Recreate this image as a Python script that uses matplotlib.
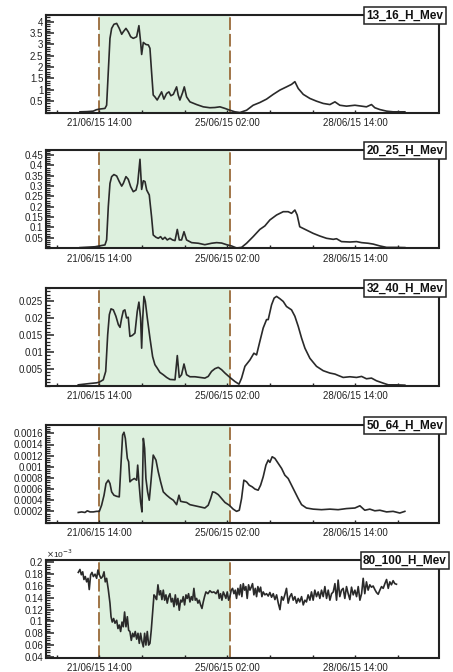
import datetime as dt
import numpy as np
import matplotlib
matplotlib.use("Agg")
import matplotlib.pyplot as plt
import matplotlib.dates as mdates
from matplotlib.ticker import FixedLocator, MultipleLocator, FuncFormatter

plt.rcParams['font.family'] = ['Liberation Sans Narrow', 'Liberation Sans', 'DejaVu Sans']

# time origin of the hour offsets below
T0 = dt.datetime(2015, 6, 21, 14, 0)
EVENT_START = 0.0    # hours after T0
EVENT_END = 86.0

# ---- proton flux per channel (hours after T0, flux) ----
hours_13_16 = [-12.7, -8, -4, -2, 0, 3.7, 4.8, 5.9, 7, 8.1, 9.6, 11.4, 13.1, 14.7, 15.75, 17.5, 19, 20.6,
               22.3, 24.5, 26, 27.1, 27.8, 28.9, 30.6, 32.2, 33.25, 34.3, 35.4, 36.5, 38, 39.8, 40.9, 42.4,
               44.2, 45.7, 47, 48.6, 50.75, 51.8, 52.9, 54.7, 55.8, 57.3, 59.5, 63.9, 68.25, 72.6, 75.9,
               79.2, 82.5, 85.75, 89, 92.3, 96.7, 101, 105.4, 109.8, 114.2, 118.6, 122.9, 126.2, 128.4,
               130.6, 133.9, 138.25, 142.6, 147, 151.4, 154.7, 157.9, 162.3, 167.8, 172.2, 175.4, 178.7,
               180.9, 184.2, 188.6, 192.9, 200.6]
flux_13_16 = [0.03, 0.04, 0.06, 0.12, 0.15, 0.18, 0.32, 1.8, 3.27, 3.71, 3.89, 3.93, 3.71, 3.45, 3.56, 3.71,
              3.56, 3.34, 3.27, 3.34, 3.83, 3.12, 2.56, 3.09, 3.0, 2.98, 2.83, 1.8, 0.77, 0.69, 0.55, 0.77,
              0.91, 0.59, 0.84, 0.91, 0.74, 0.80, 1.13, 0.77, 0.55, 0.88, 1.13, 0.69, 0.47, 0.35, 0.25, 0.21,
              0.22, 0.25, 0.18, 0.10, 0.03, 0.0, 0.10, 0.32, 0.44, 0.59, 0.80, 0.99, 1.13, 1.24, 1.36, 1.06,
              0.80, 0.62, 0.50, 0.40, 0.35, 0.47, 0.32, 0.28, 0.32, 0.28, 0.25, 0.35, 0.21, 0.13, 0.06,
              0.03, 0.03]

hours_20_25 = [-12.7, -2.8, 0, 3.7, 4.8, 5.9, 7, 8.1, 9.6, 11.4, 13.1, 14.7, 15.75, 17.5, 19, 20.6, 22.3,
               24.1, 25.2, 26.7, 27.8, 28.9, 30, 31.1, 32.8, 34.3, 35.4, 37.2, 38.7, 40.25, 41.6, 43.1,
               44.6, 46.4, 48.1, 49.7, 51.2, 52.5, 54, 55.6, 57.3, 60.6, 65, 69.3, 73.7, 77, 80.3, 83.6,
               86.8, 90.1, 93.4, 96.7, 101, 105.4, 108.7, 112, 116.4, 120.75, 124, 126.2, 128.4, 129.9,
               131.6, 136, 140.4, 144.8, 149.2, 153.6, 155.75, 159, 164.5, 168.9, 172.2, 176.5, 179.8,
               184.2, 188.6, 195.1, 200.6]
flux_20_25 = [0.002, 0.006, 0.01, 0.015, 0.039, 0.2, 0.313, 0.346, 0.356, 0.349,
              0.322, 0.30, 0.313, 0.346, 0.333, 0.297, 0.273, 0.281, 0.313, 0.43,
              0.284, 0.326, 0.322, 0.281, 0.257, 0.152, 0.063, 0.052, 0.047, 0.055,
              0.042, 0.052, 0.039, 0.047, 0.039, 0.036, 0.09, 0.039, 0.039, 0.079,
              0.039, 0.026, 0.023, 0.016, 0.023, 0.026, 0.024, 0.016, 0.01, 0.0,
              0.003, 0.023, 0.055, 0.09, 0.107, 0.136, 0.16, 0.176, 0.176, 0.168,
              0.184, 0.16, 0.103, 0.087, 0.071, 0.058, 0.047, 0.042, 0.045, 0.031,
              0.029, 0.031, 0.026, 0.023, 0.019, 0.01, 0.003, 0.003, 0.002]

hours_32_40 = [-13.8, -6.1, -1.75, 0, 2.6, 4.2, 5.5, 6.6, 7.7, 9.2,
               10.9, 12.5, 13.6, 14.7, 15.75, 16.8, 17.9, 19, 20.1, 21.7,
               23.4, 24.9, 26, 27.1, 27.8, 28.4, 29.3, 30.2, 31.5, 33.25,
               35, 36.5, 38, 39.8, 42, 44.2, 46.4, 49.7, 51.2, 52.5,
               54, 55.6, 57.3, 59.5, 62.8, 66.1, 69.3, 71.5, 73.7, 75.9,
               78.1, 80.3, 82.5, 85.75, 89, 91.7, 93.4, 95.6, 98.9, 101.5,
               103.25, 105.4, 107.6, 109.8, 110.9, 113.1, 114.8, 116.4, 118.6, 120.75,
               122.9, 126.2, 128.4, 130.6, 132.8, 135, 138.25, 142.6, 147, 151.4,
               154.7, 156.8, 160.1, 164.5, 168.9, 172.2, 175.4, 178.7, 182, 186.4,
               189.7, 195.1, 200.6]
flux_32_40 = [0.0002, 0.0006, 0.0008, 0.001, 0.0017, 0.0042, 0.0151, 0.0211, 0.0228, 0.0225,
              0.0206, 0.0181, 0.0173, 0.0201, 0.0222, 0.0225, 0.0201, 0.0203, 0.0146, 0.0149,
              0.0156, 0.022, 0.0248, 0.0201, 0.0111, 0.0191, 0.0265, 0.025, 0.0201, 0.0141,
              0.0086, 0.0062, 0.0052, 0.0039, 0.0032, 0.0024, 0.0018, 0.0017, 0.0089, 0.0024,
              0.0032, 0.0064, 0.0032, 0.0026, 0.0026, 0.0024, 0.0022, 0.0027, 0.0042, 0.005,
              0.0054, 0.0047, 0.0037, 0.0024, 0.0012, 0.0004, 0.0022, 0.0057, 0.0076, 0.0096,
              0.0091, 0.0131, 0.0171, 0.0196, 0.0196, 0.024, 0.026, 0.0265, 0.0258, 0.025,
              0.0235, 0.0225, 0.0206, 0.0176, 0.0141, 0.0111, 0.0081, 0.0057, 0.0044, 0.0037,
              0.0034, 0.003, 0.0024, 0.0026, 0.0024, 0.0027, 0.002, 0.0022, 0.0014, 0.0007,
              0.0002, 0.0002, 0.0001]

hours_50_64 = [-13.8, -11.6, -9.4, -7.9, -6.1, -3.9, -1.75, 0, 1.5, 3.1,
               4.4, 5.9, 7, 8.1, 9.6, 11.4, 13.1, 14.2, 15.3, 16.2,
               17.1, 18.4, 19.25, 20.1, 21.2, 23, 24.5, 25.2, 26, 27.1,
               28, 28.9, 29.75, 30.6, 31.7, 32.8, 33.9, 35.4, 37.2, 38.7,
               40.25, 42, 44.2, 46.4, 48.6, 50.75, 52.3, 53.4, 55.1, 57.3,
               59.5, 62.8, 66.1, 69.3, 71.5, 73.1, 74.4, 75.9, 78.1, 80.3,
               82.5, 85.3, 87.9, 90.1, 91.9, 93.4, 94.9, 96.7, 98.4, 100.4,
               102.2, 104.3, 105.9, 107.6, 109.4, 110.9, 112, 113.5, 115.3, 117.5,
               119.7, 121.8, 124, 126.2, 128.4, 130.6, 132.8, 136, 140.4, 145.9,
               151.4, 156.8, 162.3, 167.8, 171.1, 174.3, 177.6, 180.9, 184.2, 188.6,
               192.9, 197.3, 200.6]
flux_50_64 = [0.00018, 0.00019, 0.00018, 0.00021, 0.00019, 0.00019, 0.0002, 0.0002, 0.00031, 0.00049,
              0.0007, 0.00076, 0.0007, 0.00055, 0.00049, 0.00047, 0.00046, 0.00103, 0.00157, 0.00162,
              0.00151, 0.00115, 0.00109, 0.00073, 0.00076, 0.00079, 0.00076, 0.00103, 0.00073, 0.00037,
              0.00019, 0.00151, 0.00133, 0.00079, 0.00055, 0.0004, 0.00073, 0.00121, 0.00112, 0.00091,
              0.00073, 0.00055, 0.00049, 0.00044, 0.0004, 0.00032, 0.00049, 0.00038, 0.00037, 0.00036,
              0.00032, 0.0003, 0.00028, 0.00026, 0.00031, 0.00043, 0.00055, 0.00054, 0.0005, 0.00043,
              0.00036, 0.00031, 0.00024, 0.0002, 0.00022, 0.00043, 0.00076, 0.00073, 0.00067, 0.00064,
              0.0006, 0.00058, 0.00067, 0.00082, 0.00103, 0.00112, 0.00108, 0.00118, 0.00115, 0.00106,
              0.00097, 0.00085, 0.00079, 0.00067, 0.00055, 0.00043, 0.00032, 0.00026, 0.00024, 0.00023,
              0.00024, 0.00023, 0.00025, 0.00026, 0.0003, 0.00022, 0.00024, 0.00021, 0.00022, 0.00019,
              0.0002, 0.00017, 0.0002]

# 80-100 MeV, flux in units of 1e-3
hours_80_100 = [-13.8, -12.7, -11.8, -10.9, -10.1, -9.2, -8.3, -7.4, -6.6, -5.7,
                -4.8, -3.9, -2.8, -1.75, -0.9, 0, 1.1, 2.2, 3.1, 3.9,
                4.8, 5.9, 7, 7.7, 8.5, 9.4, 10.3, 11.4, 12.25, 13.1,
                14, 14.9, 15.75, 16.6, 17.5, 18.4, 19.25, 20.1, 21, 21.9,
                22.75, 23.6, 24.5, 25.4, 26.25, 27.1, 28, 28.9, 29.75, 30.6,
                31.5, 32.4, 33.25, 34.1, 35, 35.9, 36.75, 37.6, 38.5, 39.4,
                40.25, 41.1, 42, 42.9, 43.75, 44.6, 45.5, 46.4, 47.25, 48.1,
                49, 49.9, 50.75, 51.6, 52.5, 53.4, 54.25, 55.1, 56, 56.9,
                57.75, 58.6, 59.5, 60.4, 61.25, 62.1, 63, 63.9, 64.75, 65.6,
                66.5, 67.4, 68.25, 69.1, 70, 71.3, 72.6, 73.9, 75.25, 76.6,
                77.9, 78.75, 79.6, 80.5, 81.4, 82.25, 83.1, 84, 84.9, 85.75,
                86.6, 87.5, 88.4, 89.25, 90.1, 91, 91.9, 92.75, 93.6, 94.5,
                95.4, 96.25, 97.1, 98, 98.9, 99.75, 100.6, 101.5, 102.4, 103.25,
                104.1, 105, 105.9, 106.75, 107.6, 108.7, 109.8, 110.9, 112, 113.1,
                114.2, 115.3, 116.4, 117.5, 118.6, 119.7, 120.75, 121.8, 122.9, 124,
                125.1, 126.2, 127.3, 128.4, 129.5, 130.6, 131.6, 132.8, 133.9, 135,
                136, 137.1, 138.25, 139.3, 140.4, 141.5, 142.6, 143.7, 144.8, 145.9,
                147, 148.1, 149.2, 150.3, 151.4, 152.5, 153.6, 154.7, 155.75, 156.8,
                157.9, 159, 160.1, 161.2, 162.3, 163.4, 164.5, 165.6, 166.7, 167.8,
                168.9, 170, 171.1, 172.2, 173.25, 174.3, 175.4, 176.5, 177.6, 178.7,
                179.8, 180.9, 182, 183.1, 184.2, 185.3, 186.4, 187.5, 188.6, 189.7,
                190.75, 191.8, 192.9, 194, 195.1]
flux_80_100 = [0.183, 0.188, 0.179, 0.184, 0.171, 0.176, 0.167, 0.173, 0.154, 0.179,
               0.183, 0.176, 0.180, 0.173, 0.187, 0.179, 0.173, 0.176, 0.184, 0.167,
               0.173, 0.154, 0.131, 0.108, 0.099, 0.105, 0.097, 0.102, 0.088, 0.094,
               0.083, 0.099, 0.091, 0.116, 0.091, 0.108, 0.085, 0.083, 0.068, 0.080,
               0.074, 0.083, 0.070, 0.080, 0.063, 0.080, 0.066, 0.057, 0.080, 0.060,
               0.083, 0.060, 0.063, 0.085, 0.114, 0.145, 0.142, 0.137, 0.162, 0.145,
               0.152, 0.137, 0.153, 0.136, 0.145, 0.131, 0.142, 0.147, 0.133, 0.139,
               0.125, 0.145, 0.128, 0.139, 0.119, 0.136, 0.133, 0.142, 0.128, 0.145,
               0.139, 0.147, 0.133, 0.142, 0.136, 0.156, 0.136, 0.139, 0.131, 0.136,
               0.128, 0.122, 0.133, 0.142, 0.150, 0.147, 0.152, 0.149, 0.150, 0.147,
               0.153, 0.139, 0.147, 0.136, 0.150, 0.145, 0.139, 0.150, 0.136, 0.142,
               0.153, 0.156, 0.147, 0.153, 0.139, 0.156, 0.145, 0.162, 0.142, 0.164,
               0.153, 0.159, 0.139, 0.162, 0.153, 0.158, 0.164, 0.145, 0.156, 0.142,
               0.159, 0.150, 0.158, 0.142, 0.150, 0.145, 0.147, 0.143, 0.149, 0.141,
               0.147, 0.137, 0.145, 0.131, 0.120, 0.142, 0.136, 0.145, 0.156, 0.131,
               0.142, 0.147, 0.136, 0.142, 0.131, 0.139, 0.133, 0.142, 0.128, 0.136,
               0.133, 0.145, 0.136, 0.150, 0.136, 0.153, 0.142, 0.150, 0.139, 0.153,
               0.142, 0.159, 0.139, 0.153, 0.136, 0.147, 0.150, 0.164, 0.136, 0.170,
               0.142, 0.153, 0.156, 0.139, 0.159, 0.147, 0.137, 0.158, 0.145, 0.153,
               0.142, 0.159, 0.136, 0.147, 0.173, 0.147, 0.167, 0.153, 0.162, 0.158,
               0.160, 0.154, 0.149, 0.146, 0.153, 0.159, 0.156, 0.164, 0.171, 0.156,
               0.167, 0.162, 0.169, 0.164, 0.163]

# name, hours, flux, y-range, (first label, last label, step)
panels = [
    ("13_16_H_Mev", hours_13_16, flux_13_16, (0.0, 4.3), (0.5, 4.0, 0.5)),
    ("20_25_H_Mev", hours_20_25, flux_20_25, (0.0, 0.475), (0.05, 0.45, 0.05)),
    ("32_40_H_Mev", hours_32_40, flux_32_40, (0.0, 0.029), (0.005, 0.025, 0.005)),
    ("50_64_H_Mev", hours_50_64, flux_50_64, (0.0, 0.00175), (0.0002, 0.0016, 0.0002)),
    ("80_100_H_Mev", hours_80_100, flux_80_100, (0.039, 0.204), (0.04, 0.2, 0.02)),
]

# panel frames in pixels: (top, bottom)
W, H = 453, 672
LEFT, RIGHT = 46, 438.5
frames = [(15, 112.5), (150, 248), (288, 385.5), (425, 522.5), (560, 657.5)]


def to_time(hours):
    return [T0 + dt.timedelta(hours=h) for h in hours]


fig = plt.figure(figsize=(W / 100, H / 100), dpi=100)
fig.patch.set_facecolor('white')

x_lo = T0 + dt.timedelta(hours=-35)
x_hi = T0 + dt.timedelta(hours=222.7)
tick_times = [mdates.date2num(T0 + dt.timedelta(hours=28 * k)) for k in range(-1, 8)]
label_times = [mdates.date2num(T0 + dt.timedelta(hours=h)) for h in (0, 84, 168)]
fmt = mdates.DateFormatter('%d/%m/%y %H:%M')

for (name, hrs, flux, ylim, (y0, y1, ystep)), (top, bot) in zip(panels, frames):
    ax = fig.add_axes([LEFT / W, 1 - bot / H, (RIGHT - LEFT) / W, (bot - top) / H])

    t_start = T0 + dt.timedelta(hours=EVENT_START)
    t_end = T0 + dt.timedelta(hours=EVENT_END)
    ax.axvspan(t_start, t_end, color='#ddf0de', lw=0, zorder=0)
    for t in (t_start, t_end):
        ax.axvline(t, color='#9a6a3a', lw=1.3, ls=(0, (7, 2.2)), zorder=1)

    ax.plot(to_time(hrs), flux, color='#2a2a2a', lw=1.2, zorder=2)

    ax.set_xlim(x_lo, x_hi)
    ax.set_ylim(*ylim)

    ax.xaxis.set_major_locator(FixedLocator(label_times))
    ax.xaxis.set_minor_locator(FixedLocator([t for t in tick_times if t not in label_times]))
    ax.xaxis.set_major_formatter(fmt)

    yt = np.round(np.arange(y0, y1 + ystep / 2, ystep), 6)
    ax.yaxis.set_major_locator(FixedLocator(yt))
    ax.yaxis.set_minor_locator(MultipleLocator(ystep / 5))
    ax.yaxis.set_major_formatter(FuncFormatter(lambda v, p: '%g' % v))

    ax.tick_params(axis='x', which='both', direction='in', length=2.5, width=1,
                   top=False, labelsize=7, pad=4, colors='#222222')
    ax.tick_params(axis='y', which='major', direction='in', length=6, width=1.1,
                   right=False, labelsize=7, pad=2, colors='#222222')
    ax.tick_params(axis='y', which='minor', direction='in', length=3, width=0.9,
                   right=False, colors='#222222')
    for sp in ax.spines.values():
        sp.set_linewidth(1.5)
        sp.set_color('#222222')

    ax.text(0.9146, 0.995, name, transform=ax.transAxes, ha='center', va='center',
            fontsize=8.5, fontweight='bold', color='#111111', zorder=5, clip_on=False,
            bbox=dict(boxstyle='square,pad=0.18', fc='white', ec='#222222', lw=1.1))

    if name == "80_100_H_Mev":
        ax.text(0.0, 1.005, r'$\times$10$^{-3}$', transform=ax.transAxes, ha='left',
                va='bottom', fontsize=6, color='#222222')

fig.savefig('out.png', dpi=100)
